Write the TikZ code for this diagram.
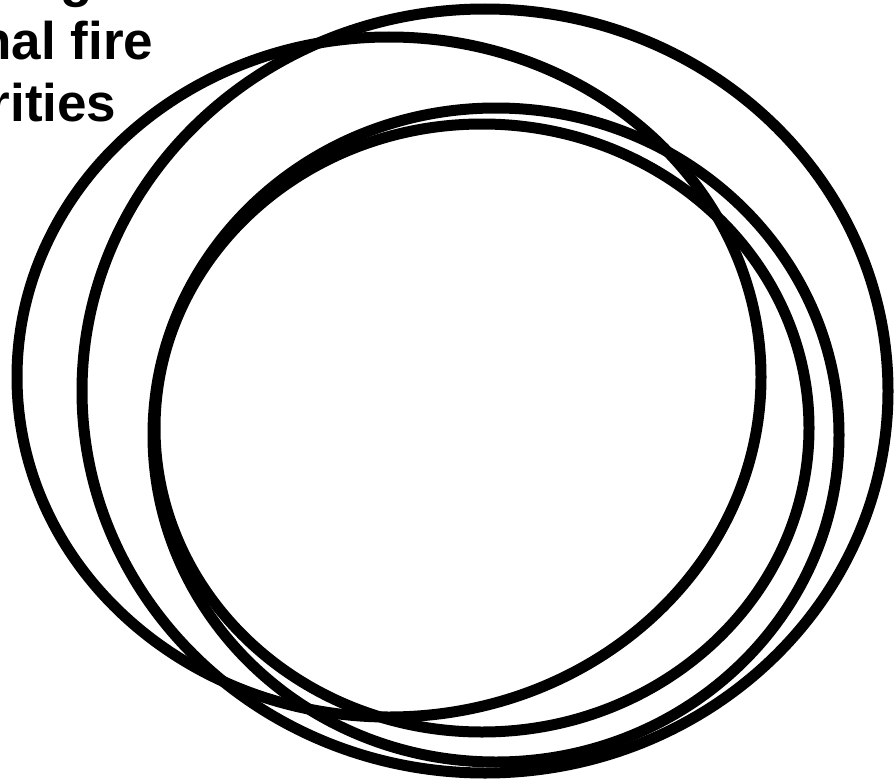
\documentclass[tikz,border=0pt]{standalone}
\usepackage{fontspec}
\setmainfont{Liberation Sans}
\usepackage{tikz}
\usetikzlibrary{positioning}

\begin{document}
\begin{tikzpicture}[
    x=1pt, y=-1pt,
    ring/.style={draw=black, line width=11pt},
    heading/.style={font=\fontsize{53}{62.4}\selectfont\bfseries, align=center, inner sep=0pt},
]
    \useasboundingbox (0,0) rectangle (894,784);
    \clip (0,0) rectangle (894,784);

    % title, cut off at the left edge
    \node[heading, anchor=base] (title) at (3,121.7) {Setting\\national fire\\priorities};

    \draw[ring] (389,377) ellipse [x radius=372, y radius=340];
    \draw[ring] (485,391) ellipse [x radius=403, y radius=382];
    \draw[ring] (496,435) ellipse [x radius=343, y radius=327];
    \draw[ring] (482,428) ellipse [x radius=327, y radius=304];
\end{tikzpicture}
\end{document}
